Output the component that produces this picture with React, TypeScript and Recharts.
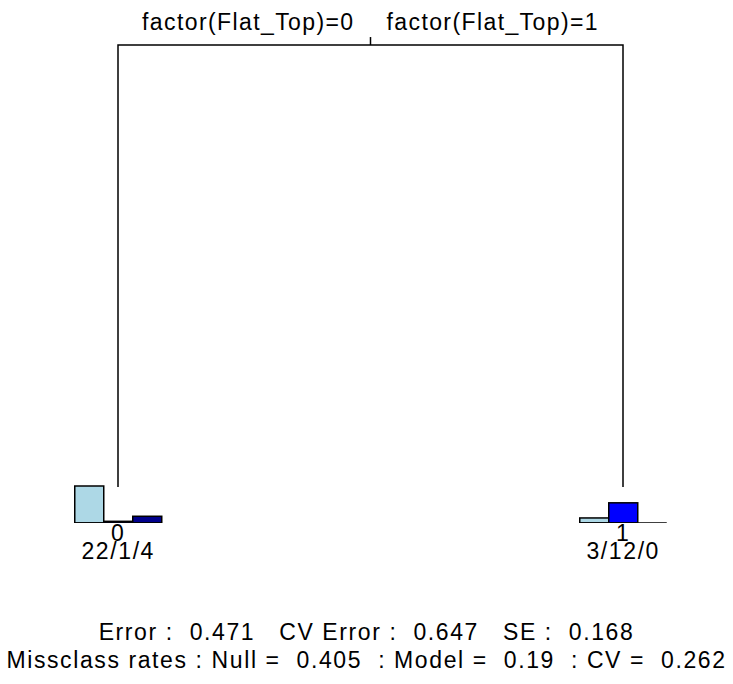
import React from 'react';
import { ComposedChart, Bar, Line, XAxis, YAxis, LabelList } from 'recharts';

// leaves of the classification tree: position, predicted class and counts per class
const leafX = [1, 2];
const leafClass = ['0', '1'];
const class0 = [22, 3];
const class1 = [1, 12];
const class2 = [4, 0];

// the split: both branches hang from the root at y = 1 down to the leaves at y = 0
const treeX = [1, 1, 2, 2];
const treeY = [0, 1, 1, 0];
const rootTickY = [1, 1.018];
const splitLabels = ['factor(Flat_Top)=0', 'factor(Flat_Top)=1'];

const errorLine = 'Error :  0.471   CV Error :  0.647   SE :  0.168';
const rateLine = 'Missclass rates : Null =  0.405  : Model =  0.19  : CV =  0.262';

const classColors = ['#add8e6', '#0000ff', '#00008b'];
const FONT = '"Liberation Sans", Arial, sans-serif';
const FONT_SIZE = 23;
const LETTER_SPACING = 1.6;

const leaves = leafX.map((x, i) => ({
  x,
  c0: class0[i],
  c1: class1[i],
  c2: class2[i],
  cls: leafClass[i],
  counts: `${class0[i]}/${class1[i]}/${class2[i]}`,
}));

const branches = treeX.map((x, i) => ({ x, y: treeY[i] }));
const rootX = (leafX[0] + leafX[1]) / 2;
const rootTick = rootTickY.map((y) => ({ x: rootX, y }));

// bar with its own piece of the baseline, so empty classes still show the axis
const LeafBar = (props: any) => {
  const { x, y, width, height, fill } = props;
  const base = y + height;
  return (
    <g>
      {height > 0 && (
        <rect x={x} y={y} width={width} height={height} fill={fill} stroke="#000" strokeWidth={1.5} />
      )}
      <line x1={x} x2={x + width} y1={base} y2={base} stroke="#000" strokeWidth={1.5} />
    </g>
  );
};

const leafText = (dy: number) => (props: any) => {
  const { x, y, width, height, value } = props;
  return (
    <text
      x={x + width / 2}
      y={y + height + dy}
      textAnchor="middle"
      fontFamily={FONT}
      fontSize={FONT_SIZE}
      letterSpacing={LETTER_SPACING}
      fill="#000"
    >
      {value}
    </text>
  );
};

// split labels sit either side of the tick on top of the root
const RootDot = (props: any) => {
  const { cx, cy, index } = props;
  if (index !== 0) return <g key={`d${index}`} />;
  return (
    <g key={`d${index}`}>
      <text x={cx - 16} y={cy - 15} textAnchor="end" fontFamily={FONT} fontSize={FONT_SIZE} letterSpacing={1.4} fill="#000">
        {splitLabels[0]}
      </text>
      <text x={cx + 16} y={cy - 15} textAnchor="start" fontFamily={FONT} fontSize={FONT_SIZE} letterSpacing={1.4} fill="#000">
        {splitLabels[1]}
      </text>
    </g>
  );
};

const statStyle: React.CSSProperties = {
  position: 'absolute',
  left: 0,
  width: 733,
  textAlign: 'center',
  fontFamily: FONT,
  fontSize: FONT_SIZE,
  letterSpacing: LETTER_SPACING,
  lineHeight: `${FONT_SIZE}px`,
  whiteSpace: 'pre',
  color: '#000',
};

export default function App() {
  return (
    <div style={{ position: 'absolute', left: 0, top: 0, width: 733, height: 684, background: '#fff' }}>
      <ComposedChart
        width={733}
        height={684}
        data={leaves}
        margin={{ top: 0, right: 9, bottom: 161, left: 17 }}
        barSize={29}
        barGap={0}
      >
        <XAxis dataKey="x" type="number" domain={[0.8, 2.2]} allowDataOverflow hide />
        <YAxis yAxisId="tree" type="number" domain={[-0.0814, 1.1018]} allowDataOverflow hide />
        <YAxis yAxisId="bars" type="number" domain={[0, 311]} allowDataOverflow hide />
        <Line
          yAxisId="tree"
          data={branches}
          dataKey="y"
          stroke="#000"
          strokeWidth={1.5}
          dot={false}
          isAnimationActive={false}
        />
        <Line
          yAxisId="tree"
          data={rootTick}
          dataKey="y"
          stroke="#000"
          strokeWidth={1.5}
          dot={RootDot}
          isAnimationActive={false}
        />
        <Bar yAxisId="bars" dataKey="c0" fill={classColors[0]} shape={LeafBar} isAnimationActive={false} />
        <Bar yAxisId="bars" dataKey="c1" fill={classColors[1]} shape={LeafBar} isAnimationActive={false}>
          <LabelList dataKey="cls" content={leafText(18)} />
          <LabelList dataKey="counts" content={leafText(36)} />
        </Bar>
        <Bar yAxisId="bars" dataKey="c2" fill={classColors[2]} shape={LeafBar} isAnimationActive={false} />
      </ComposedChart>
      <div style={{ ...statStyle, top: 621 }}>{errorLine}</div>
      <div style={{ ...statStyle, top: 649 }}>{rateLine}</div>
    </div>
  );
}
